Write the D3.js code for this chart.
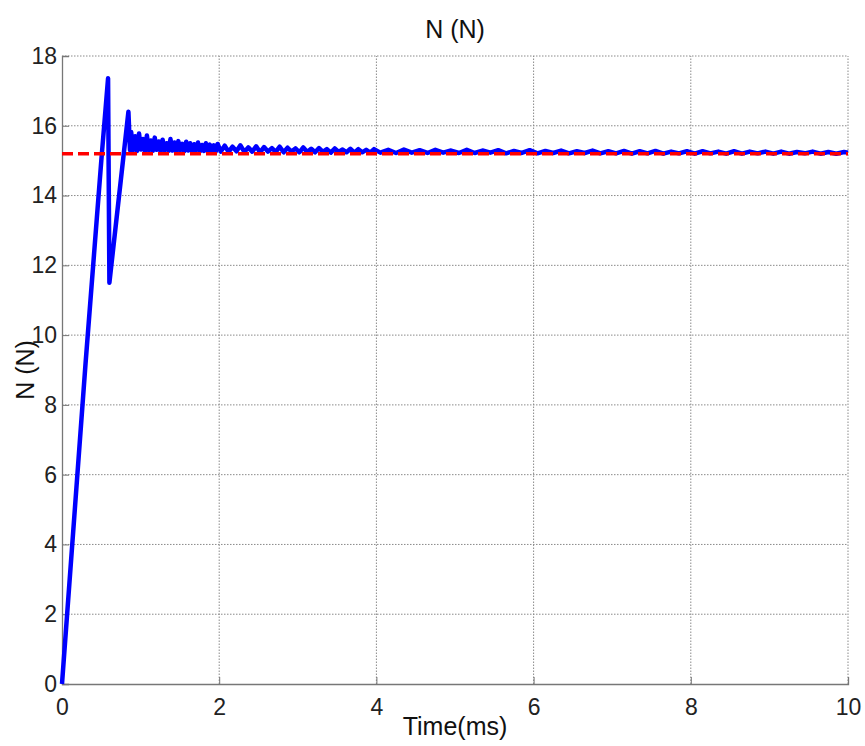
<!DOCTYPE html>
<html>
<head>
<meta charset="utf-8">
<script src="https://cdn.jsdelivr.net/npm/d3@7"></script>
<style>
  body { margin: 0; background: #fff; }
  svg { display: block; font-family: "Liberation Sans", Arial, sans-serif; }
</style>
</head>
<body>
<script>
// force response (ms, N)
const timeMs = [0, 0.30, 0.50, 0.586, 0.603, 0.845, 0.865,
  0.88, 0.905, 0.93, 0.955, 0.98, 1.005, 1.03, 1.055, 1.08, 1.105, 1.13, 1.155, 1.18, 1.205, 1.23,
  1.255, 1.28, 1.305, 1.33, 1.355, 1.38, 1.405, 1.43, 1.455, 1.48, 1.505, 1.53, 1.555, 1.58, 1.605,
  1.63, 1.655, 1.68, 1.705, 1.73, 1.755, 1.78, 1.805, 1.83, 1.855, 1.88, 1.905, 1.93, 1.955, 1.98,
  2.02, 2.07, 2.12, 2.17, 2.22, 2.27, 2.32, 2.37, 2.42, 2.47, 2.52, 2.57, 2.62, 2.67, 2.72, 2.77,
  2.82, 2.87, 2.92, 2.97, 3.02, 3.07, 3.12, 3.17, 3.22, 3.27, 3.32, 3.37, 3.42, 3.47, 3.52, 3.57,
  3.62, 3.67, 3.72, 3.77, 3.82, 3.87, 3.92, 3.97,
  4.05, 4.15, 4.25, 4.35, 4.45, 4.55, 4.65, 4.75, 4.85, 4.95, 5.05, 5.15, 5.25, 5.35, 5.45, 5.55,
  5.65, 5.75, 5.85, 5.95, 6.05, 6.15, 6.25, 6.35, 6.45, 6.55, 6.65, 6.75, 6.85, 6.95, 7.05, 7.15,
  7.25, 7.35, 7.45, 7.55, 7.65, 7.75, 7.85, 7.95, 8.05, 8.15, 8.25, 8.35, 8.45, 8.55, 8.65, 8.75,
  8.85, 8.95, 9.05, 9.15, 9.25, 9.35, 9.45, 9.55, 9.65, 9.75, 9.85, 9.95, 10.0];
const forceN = [0, 9.2, 15.0, 17.36, 11.5, 16.4, 15.3,
  15.82, 15.3, 15.7, 15.28, 15.78, 15.32, 15.62, 15.27, 15.72, 15.3, 15.58, 15.28, 15.66, 15.31, 15.55,
  15.27, 15.6, 15.3, 15.5, 15.28, 15.62, 15.29, 15.52, 15.27, 15.56, 15.3, 15.48, 15.27, 15.54, 15.29,
  15.5, 15.26, 15.47, 15.3, 15.52, 15.27, 15.45, 15.28, 15.5, 15.26, 15.46, 15.28, 15.44, 15.26, 15.48,
  15.26, 15.43, 15.25, 15.4, 15.27, 15.44, 15.25, 15.38, 15.26, 15.41, 15.24, 15.39, 15.26, 15.36, 15.25, 15.4,
  15.24, 15.37, 15.26, 15.35, 15.24, 15.38, 15.25, 15.34, 15.24, 15.36, 15.25, 15.33, 15.23, 15.35, 15.25, 15.32,
  15.24, 15.34, 15.23, 15.33, 15.24, 15.31, 15.23, 15.33,
  15.23, 15.31, 15.22, 15.32, 15.23, 15.3, 15.22, 15.31, 15.23, 15.29, 15.22, 15.31, 15.22, 15.29, 15.23, 15.3,
  15.21, 15.28, 15.22, 15.3, 15.21, 15.28, 15.22, 15.29, 15.21, 15.27, 15.22, 15.29, 15.21, 15.27, 15.21, 15.28,
  15.2, 15.27, 15.21, 15.28, 15.2, 15.26, 15.21, 15.27, 15.2, 15.27, 15.21, 15.26, 15.2, 15.27, 15.2, 15.26,
  15.21, 15.26, 15.2, 15.26, 15.2, 15.25, 15.21, 15.26, 15.2, 15.25, 15.2, 15.25, 15.23];
const refLevel = 15.2;
const xTicks = [0, 2, 4, 6, 8, 10];
const yTicks = [0, 2, 4, 6, 8, 10, 12, 14, 16, 18];

const width = 865, height = 746;
const margin = {top: 56, right: 17, bottom: 62, left: 62};

const svg = d3.select("body").append("svg")
    .attr("width", width)
    .attr("height", height);

const x = d3.scaleLinear().domain([0, 10]).range([margin.left, width - margin.right]);
const y = d3.scaleLinear().domain([0, 18]).range([height - margin.bottom, margin.top]);

// grid
const grid = svg.append("g")
    .attr("stroke", "#8a8a8a")
    .attr("stroke-width", 1)
    .attr("stroke-dasharray", "1.5,1.5");
grid.selectAll("line.gx")
  .data(xTicks.slice(1))
  .join("line")
    .attr("class", "gx")
    .attr("x1", d => x(d)).attr("x2", d => x(d))
    .attr("y1", y(0)).attr("y2", y(18));
grid.selectAll("line.gy")
  .data(yTicks.slice(1))
  .join("line")
    .attr("class", "gy")
    .attr("x1", x(0)).attr("x2", x(10))
    .attr("y1", d => y(d)).attr("y2", d => y(d));

// axes, ticks inward like matlab
const xAxis = svg.append("g")
    .attr("transform", `translate(0,${y(0)})`)
    .call(d3.axisBottom(x).tickValues(xTicks).tickSize(-7).tickPadding(14).tickFormat(d3.format("d")));
const yAxis = svg.append("g")
    .attr("transform", `translate(${x(0)},0)`)
    .call(d3.axisLeft(y).tickValues(yTicks).tickSize(-7).tickPadding(5).tickFormat(d3.format("d")));

[xAxis, yAxis].forEach(g => {
  g.select(".domain").attr("stroke", "#777").attr("stroke-width", 1.3);
  g.selectAll(".tick line").attr("stroke", "#777");
  g.selectAll(".tick text")
    .attr("fill", "#222")
    .style("font-size", "23px")
    .style("font-family", "'Liberation Sans', Arial, sans-serif");
});
xAxis.selectAll(".tick text").attr("dy", "0.72em");

// line
const line = d3.line()
    .x((d, i) => x(timeMs[i]))
    .y(d => y(d));

svg.append("path")
    .datum(forceN)
    .attr("fill", "none")
    .attr("stroke", "#0000ff")
    .attr("stroke-width", 4.5)
    .attr("stroke-linejoin", "round")
    .attr("d", line);

svg.append("line")
    .attr("x1", x(0)).attr("x2", x(10))
    .attr("y1", y(refLevel)).attr("y2", y(refLevel))
    .attr("stroke", "#ff0000")
    .attr("stroke-width", 3.5)
    .attr("stroke-dasharray", "11,5");

// labels
svg.append("text")
    .attr("x", x(5))
    .attr("y", 38)
    .attr("text-anchor", "middle")
    .style("font-size", "25px")
    .attr("fill", "#111")
    .text("N (N)");

svg.append("text")
    .attr("x", x(5))
    .attr("y", 735)
    .attr("text-anchor", "middle")
    .style("font-size", "25px")
    .attr("fill", "#111")
    .text("Time(ms)");

svg.append("text")
    .attr("transform", `translate(34,${y(9)}) rotate(-90)`)
    .attr("text-anchor", "middle")
    .style("font-size", "25px")
    .attr("fill", "#111")
    .text("N (N)");
</script>
</body>
</html>
